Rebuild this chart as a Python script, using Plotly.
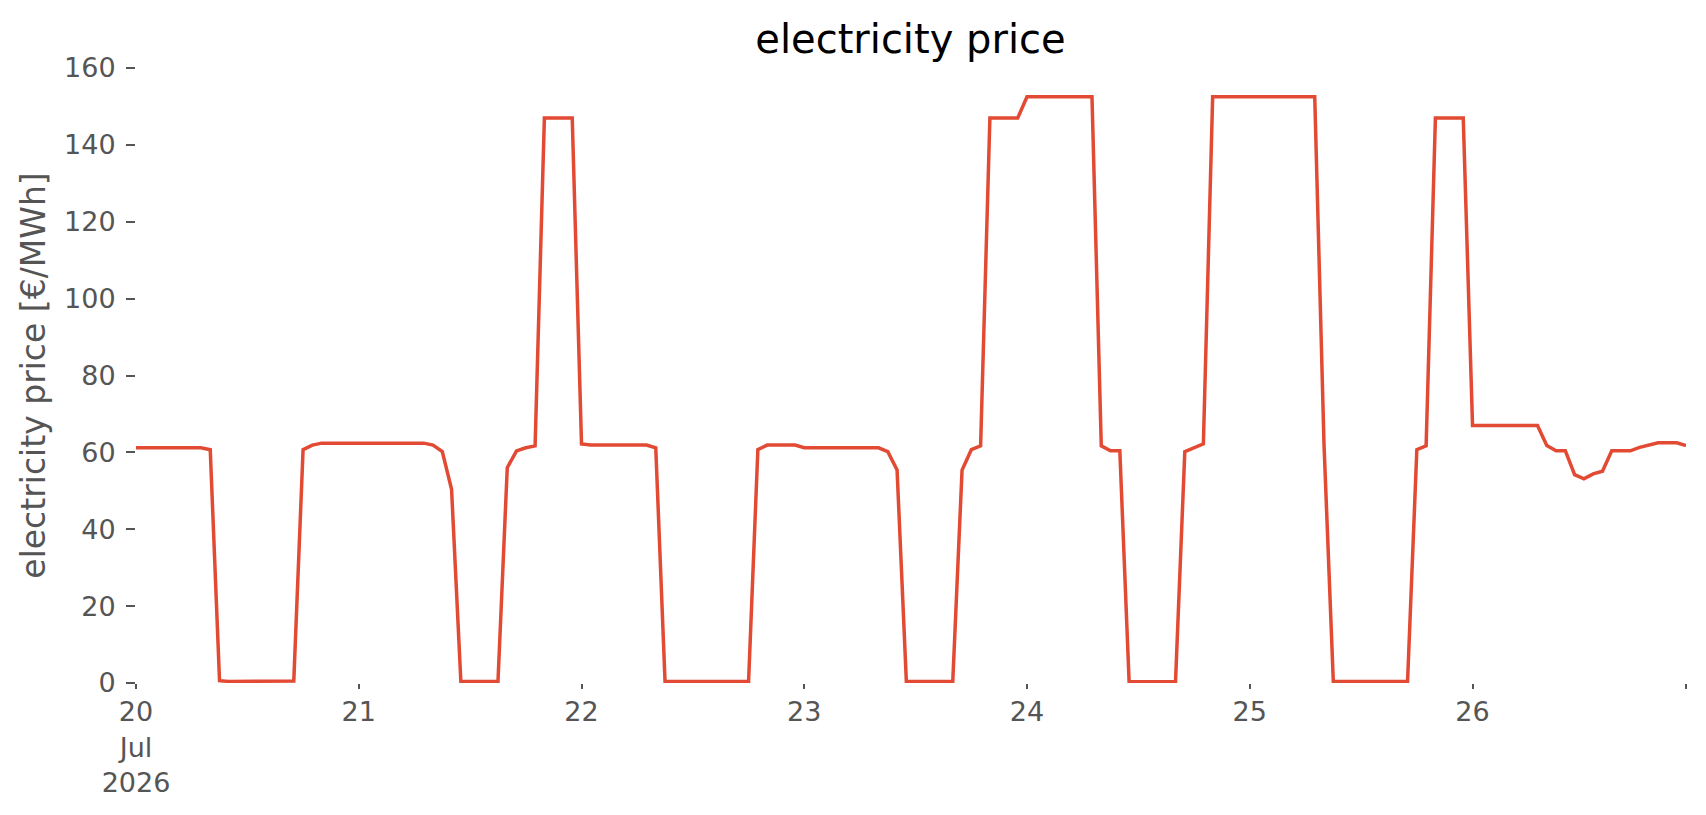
import pandas as pd
import plotly.graph_objects as go

# hourly electricity price, 20 Jul 2026 00:00 .. 26 Jul 2026 23:00
price_day20 = [61.2] * 8 + [60.7, 0.6] + [0.4] * 6 + [0.45, 0.55, 60.7, 61.9] + [62.4] * 4
price_day21 = [62.4] * 8 + [61.9, 60.2, 50.4] + [0.4] * 5 + [56.0, 60.4, 61.2, 61.7] + [147.0] * 4
price_day22 = [62.2] + [61.9] * 7 + [61.2] + [0.4] * 10 + [60.7] + [61.9] * 4
price_day23 = [61.2] * 9 + [60.2, 55.4] + [0.4] * 6 + [55.4, 60.7, 61.7] + [147.0] * 4
price_day24 = [152.5] * 8 + [61.7, 60.4, 60.4] + [0.35] * 6 + [60.2, 61.2, 62.2] + [152.5] * 4
price_day25 = [152.5] * 8 + [62.0] + [0.4] * 9 + [60.7, 61.7] + [147.0] * 4
price_day26 = [67.0] * 8 + [61.8, 60.4, 60.4, 54.2, 53.1, 54.4, 55.1, 60.4, 60.4, 60.4,
                            61.3, 62.0, 62.5, 62.5, 62.5, 61.8]

price = (price_day20 + price_day21 + price_day22 + price_day23
         + price_day24 + price_day25 + price_day26)
timestamps = pd.date_range("2026-07-20 00:00", periods=len(price), freq="h")

tick_dates = list(pd.date_range("2026-07-20", "2026-07-26", freq="D")) + [timestamps[-1]]
tick_labels = ["20<br>Jul<br>2026", "21", "22", "23", "24", "25", "26", ""]
y_ticks = [0, 20, 40, 60, 80, 100, 120, 140, 160]

grey = "#555555"

fig = go.Figure()
fig.add_trace(go.Scatter(
    x=timestamps,
    y=price,
    mode="lines",
    line=dict(color="#E24A33", width=3.5),
    showlegend=False,
))

fig.update_layout(
    width=1706,
    height=815,
    margin=dict(l=128, r=28, t=60, b=140),
    paper_bgcolor="white",
    plot_bgcolor="white",
    font=dict(family="DejaVu Sans", color=grey),
    title=dict(
        text="electricity price",
        font=dict(size=40, color="black"),
        x=0.529, xanchor="center",
        y=1 - 31 / 815, yanchor="middle",
    ),
    xaxis=dict(
        range=[timestamps[0], timestamps[-1]],
        tickvals=tick_dates,
        ticktext=tick_labels,
        ticks="outside",
        ticklen=5,
        tickwidth=1.5,
        tickcolor=grey,
        tickfont=dict(size=27, color=grey),
        showgrid=False,
        zeroline=False,
        showline=False,
    ),
    yaxis=dict(
        range=[0, 160],
        tickvals=y_ticks,
        ticks="outside",
        ticklen=9,
        tickwidth=1.5,
        tickcolor=grey,
        ticklabelstandoff=5,
        tickfont=dict(size=27, color=grey),
        title=dict(text="electricity price [€/MWh]", font=dict(size=33, color=grey), standoff=8),
        showgrid=False,
        zeroline=False,
        showline=False,
    ),
)

fig.write_html("out.html")
